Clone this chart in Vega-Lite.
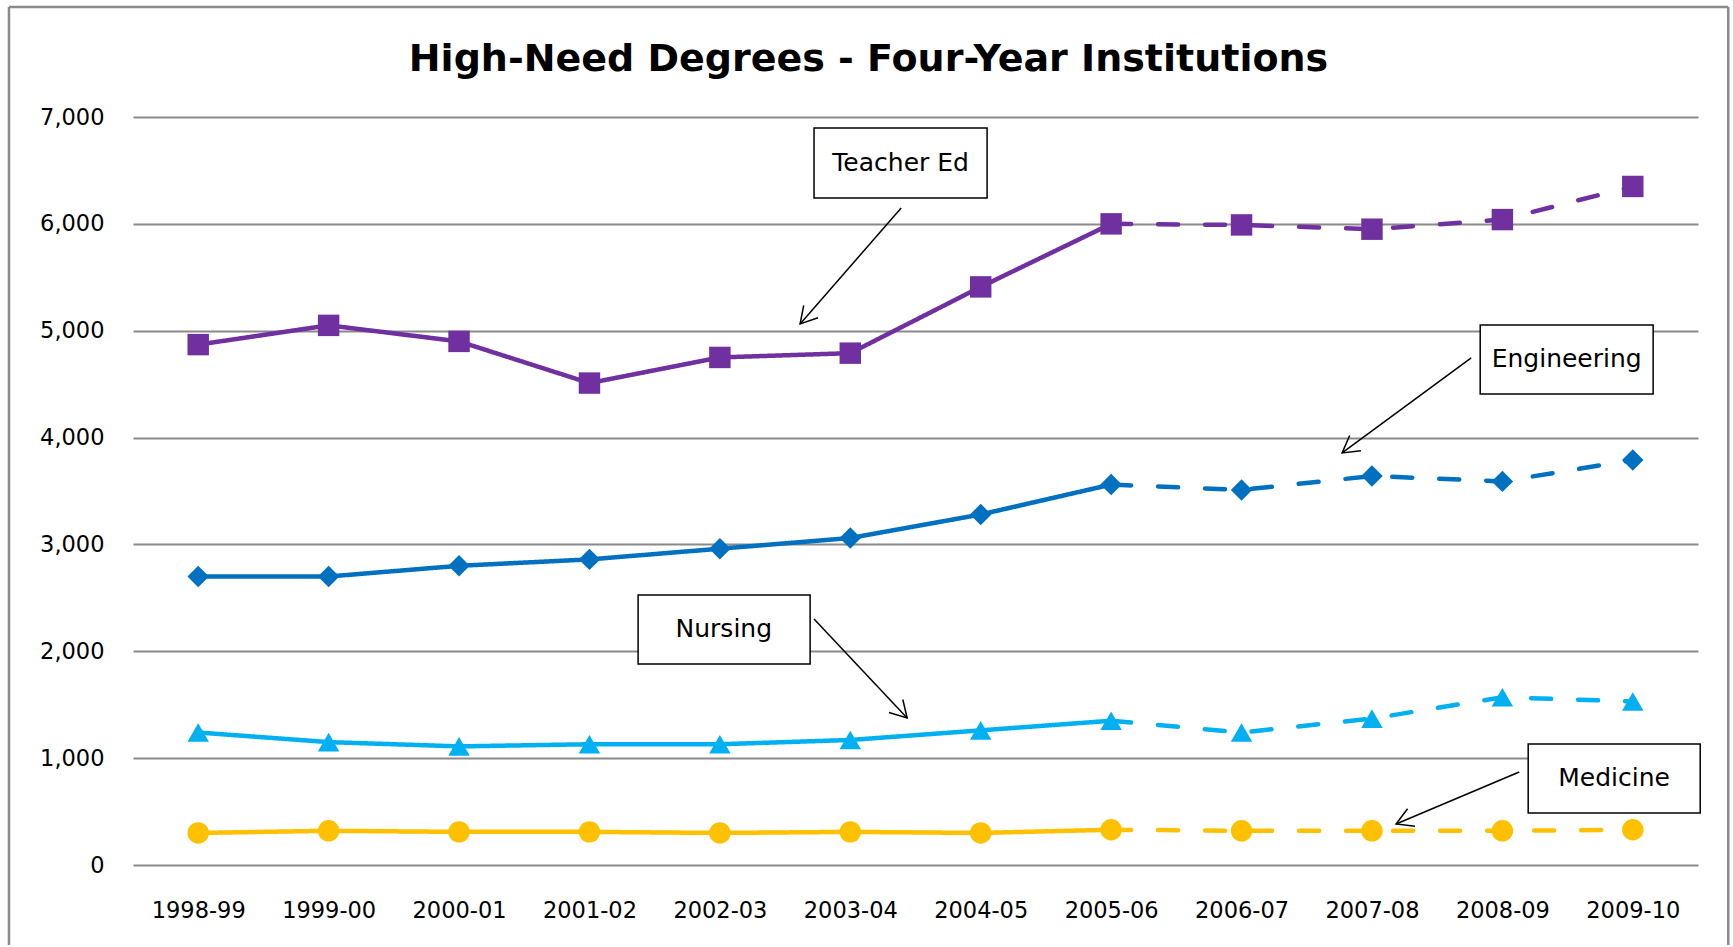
{
  "$schema": "https://vega.github.io/schema/vega-lite/v6.json",
  "width": 1565,
  "height": 748,
  "padding": {"left": 7, "top": 5, "right": 0, "bottom": 0},
  "background": "white",
  "title": {
    "text": "High-Need Degrees - Four-Year Institutions",
    "font": "DejaVu Sans",
    "fontSize": 38,
    "fontWeight": "bold",
    "color": "#000000",
    "anchor": "middle",
    "frame": "group",
    "baseline": "alphabetic",
    "offset": -103,
    "dx": -47
  },
  "datasets": {
    "series": [
      {"year": "1998-99", "series": "Teacher Ed", "value": 4870, "segment": "actual"},
      {"year": "1999-00", "series": "Teacher Ed", "value": 5050, "segment": "actual"},
      {"year": "2000-01", "series": "Teacher Ed", "value": 4900, "segment": "actual"},
      {"year": "2001-02", "series": "Teacher Ed", "value": 4510, "segment": "actual"},
      {"year": "2002-03", "series": "Teacher Ed", "value": 4750, "segment": "actual"},
      {"year": "2003-04", "series": "Teacher Ed", "value": 4790, "segment": "actual"},
      {"year": "2004-05", "series": "Teacher Ed", "value": 5410, "segment": "actual"},
      {"year": "2005-06", "series": "Teacher Ed", "value": 6000, "segment": "actual"},
      {"year": "2005-06", "series": "Teacher Ed", "value": 6000, "segment": "projected"},
      {"year": "2006-07", "series": "Teacher Ed", "value": 5990, "segment": "projected"},
      {"year": "2007-08", "series": "Teacher Ed", "value": 5950, "segment": "projected"},
      {"year": "2008-09", "series": "Teacher Ed", "value": 6040, "segment": "projected"},
      {"year": "2009-10", "series": "Teacher Ed", "value": 6350, "segment": "projected"},
      {"year": "1998-99", "series": "Engineering", "value": 2700, "segment": "actual"},
      {"year": "1999-00", "series": "Engineering", "value": 2700, "segment": "actual"},
      {"year": "2000-01", "series": "Engineering", "value": 2800, "segment": "actual"},
      {"year": "2001-02", "series": "Engineering", "value": 2860, "segment": "actual"},
      {"year": "2002-03", "series": "Engineering", "value": 2960, "segment": "actual"},
      {"year": "2003-04", "series": "Engineering", "value": 3060, "segment": "actual"},
      {"year": "2004-05", "series": "Engineering", "value": 3280, "segment": "actual"},
      {"year": "2005-06", "series": "Engineering", "value": 3560, "segment": "actual"},
      {"year": "2005-06", "series": "Engineering", "value": 3560, "segment": "projected"},
      {"year": "2006-07", "series": "Engineering", "value": 3510, "segment": "projected"},
      {"year": "2007-08", "series": "Engineering", "value": 3640, "segment": "projected"},
      {"year": "2008-09", "series": "Engineering", "value": 3590, "segment": "projected"},
      {"year": "2009-10", "series": "Engineering", "value": 3790, "segment": "projected"},
      {"year": "1998-99", "series": "Nursing", "value": 1240, "segment": "actual"},
      {"year": "1999-00", "series": "Nursing", "value": 1150, "segment": "actual"},
      {"year": "2000-01", "series": "Nursing", "value": 1110, "segment": "actual"},
      {"year": "2001-02", "series": "Nursing", "value": 1130, "segment": "actual"},
      {"year": "2002-03", "series": "Nursing", "value": 1130, "segment": "actual"},
      {"year": "2003-04", "series": "Nursing", "value": 1170, "segment": "actual"},
      {"year": "2004-05", "series": "Nursing", "value": 1260, "segment": "actual"},
      {"year": "2005-06", "series": "Nursing", "value": 1350, "segment": "actual"},
      {"year": "2005-06", "series": "Nursing", "value": 1350, "segment": "projected"},
      {"year": "2006-07", "series": "Nursing", "value": 1240, "segment": "projected"},
      {"year": "2007-08", "series": "Nursing", "value": 1370, "segment": "projected"},
      {"year": "2008-09", "series": "Nursing", "value": 1570, "segment": "projected"},
      {"year": "2009-10", "series": "Nursing", "value": 1530, "segment": "projected"},
      {"year": "1998-99", "series": "Medicine", "value": 300, "segment": "actual"},
      {"year": "1999-00", "series": "Medicine", "value": 320, "segment": "actual"},
      {"year": "2000-01", "series": "Medicine", "value": 310, "segment": "actual"},
      {"year": "2001-02", "series": "Medicine", "value": 310, "segment": "actual"},
      {"year": "2002-03", "series": "Medicine", "value": 300, "segment": "actual"},
      {"year": "2003-04", "series": "Medicine", "value": 310, "segment": "actual"},
      {"year": "2004-05", "series": "Medicine", "value": 300, "segment": "actual"},
      {"year": "2005-06", "series": "Medicine", "value": 330, "segment": "actual"},
      {"year": "2005-06", "series": "Medicine", "value": 330, "segment": "projected"},
      {"year": "2006-07", "series": "Medicine", "value": 320, "segment": "projected"},
      {"year": "2007-08", "series": "Medicine", "value": 320, "segment": "projected"},
      {"year": "2008-09", "series": "Medicine", "value": 320, "segment": "projected"},
      {"year": "2009-10", "series": "Medicine", "value": 330, "segment": "projected"}
    ],
    "notes": [
      {"label": "Teacher Ed", "x1": 4.722, "x2": 6.049, "y1": 6897, "y2": 6242, "tx": 5.386, "ty": 6569, "ax1": 5.39, "ay1": 6148, "ax2": 4.615, "ay2": 5063, "angle": 131},
      {"label": "Engineering", "x1": 9.83, "x2": 11.156, "y1": 5053, "y2": 4408, "tx": 10.493, "ty": 4731, "ax1": 9.761, "ay1": 4745, "ax2": 8.771, "ay2": 3856, "angle": 143.6},
      {"label": "Nursing", "x1": 3.373, "x2": 4.692, "y1": 2527, "y2": 1881, "tx": 4.03, "ty": 2204, "ax1": 4.722, "ay1": 2302, "ax2": 5.436, "ay2": 1376, "angle": 46.8},
      {"label": "Medicine", "x1": 10.198, "x2": 11.517, "y1": 1132, "y2": 487, "tx": 10.857, "ty": 810, "ax1": 10.129, "ay1": 870, "ax2": 9.185, "ay2": 384, "angle": 157.1}
    ],
    "frame": [
      {"side": "left", "x1": -1.451, "x2": -1.451, "y1": 8029, "y2": -749},
      {"side": "top", "x1": -1.451, "x2": 11.732, "y1": 8029, "y2": 8029},
      {"side": "right", "x1": 11.732, "x2": 11.732, "y1": 8029, "y2": -749}
    ]
  },
  "layer": [
    {
      "layer": [
        {
          "data": {"name": "frame"},
          "mark": {"type": "rule", "color": "#8a8a8a", "strokeWidth": 2.5},
          "encoding": {
            "x": {"field": "x1", "type": "quantitative", "scale": {"domain": [-0.5, 11.5], "nice": false, "zero": false}, "axis": null},
            "x2": {"field": "x2"},
            "y": {"field": "y1", "type": "quantitative", "scale": {"domain": [0, 7000], "nice": false, "zero": false}, "title": null},
            "y2": {"field": "y2"}
          }
        },
        {
          "data": {"name": "notes"},
          "mark": {"type": "rect", "fill": "white", "stroke": "black", "strokeWidth": 1.5},
          "encoding": {
            "x": {"field": "x1", "type": "quantitative", "scale": {"domain": [-0.5, 11.5], "nice": false, "zero": false}, "axis": null},
            "x2": {"field": "x2"},
            "y": {"field": "y1", "type": "quantitative", "scale": {"domain": [0, 7000], "nice": false, "zero": false}, "title": null},
            "y2": {"field": "y2"}
          }
        },
        {
          "data": {"name": "notes"},
          "mark": {"type": "text", "font": "DejaVu Sans", "fontSize": 25, "color": "black", "align": "center", "baseline": "middle"},
          "encoding": {
            "x": {"field": "tx", "type": "quantitative", "scale": {"domain": [-0.5, 11.5], "nice": false, "zero": false}, "axis": null},
            "y": {"field": "ty", "type": "quantitative", "scale": {"domain": [0, 7000], "nice": false, "zero": false}, "title": null},
            "text": {"field": "label"}
          }
        },
        {
          "data": {"name": "notes"},
          "mark": {"type": "rule", "color": "black", "strokeWidth": 1.5},
          "encoding": {
            "x": {"field": "ax1", "type": "quantitative", "scale": {"domain": [-0.5, 11.5], "nice": false, "zero": false}, "axis": null},
            "x2": {"field": "ax2"},
            "y": {"field": "ay1", "type": "quantitative", "scale": {"domain": [0, 7000], "nice": false, "zero": false}, "title": null},
            "y2": {"field": "ay2"}
          }
        },
        {
          "data": {"name": "notes"},
          "mark": {"type": "point", "shape": "M -0.866 -0.5 L 0 0 L -0.866 0.5", "filled": false, "color": "black", "strokeWidth": 1.5, "size": 1444, "opacity": 1},
          "encoding": {
            "x": {"field": "ax2", "type": "quantitative", "scale": {"domain": [-0.5, 11.5], "nice": false, "zero": false}, "axis": null},
            "y": {"field": "ay2", "type": "quantitative", "scale": {"domain": [0, 7000], "nice": false, "zero": false}, "title": null},
            "angle": {"field": "angle", "type": "quantitative", "scale": null}
          }
        }
      ]
    },
    {
      "data": {"name": "series"},
      "layer": [
        {
          "mark": {"type": "line", "strokeWidth": 4.5, "strokeCap": "round", "strokeJoin": "round"},
          "encoding": {
            "x": {"field": "year", "type": "ordinal", "scale": {"type": "point", "padding": 0.5}, "title": null},
            "y": {"field": "value", "type": "quantitative", "scale": {"domain": [0, 7000], "nice": false, "zero": false}, "title": null},
            "color": {"field": "series", "type": "nominal", "scale": {"domain": ["Teacher Ed", "Engineering", "Nursing", "Medicine"], "range": ["#7030A0", "#0070C0", "#00B0F0", "#FFC000"]}, "legend": null},
            "strokeDash": {"field": "segment", "type": "nominal", "scale": {"domain": ["actual", "projected"], "range": [[1, 0], [20, 27]]}, "legend": null},
            "detail": {"field": "segment"}
          }
        },
        {
          "transform": [{"filter": "datum.segment == 'actual' || datum.year != '2005-06'"}],
          "mark": {"type": "point", "filled": true, "opacity": 1, "size": 460},
          "encoding": {
            "x": {"field": "year", "type": "ordinal", "scale": {"type": "point", "padding": 0.5}, "title": null},
            "y": {"field": "value", "type": "quantitative", "scale": {"domain": [0, 7000], "nice": false, "zero": false}, "title": null},
            "color": {"field": "series", "type": "nominal", "scale": {"domain": ["Teacher Ed", "Engineering", "Nursing", "Medicine"], "range": ["#7030A0", "#0070C0", "#00B0F0", "#FFC000"]}, "legend": null},
            "shape": {"field": "series", "type": "nominal", "scale": {"domain": ["Teacher Ed", "Engineering", "Nursing", "Medicine"], "range": ["square", "diamond", "triangle-up", "circle"]}, "legend": null}
          }
        }
      ]
    }
  ],
  "resolve": {"scale": {"x": "independent"}, "axis": {"x": "independent"}},
  "config": {
    "view": {"stroke": null},
    "axis": {
      "labelFont": "DejaVu Sans",
      "labelFontSize": 22.5,
      "labelColor": "#000000",
      "ticks": false,
      "domain": false,
      "gridColor": "#8a8a8a",
      "gridWidth": 1.8
    },
    "axisY": {"grid": true, "tickCount": 7, "labelPadding": 29},
    "axisX": {"grid": false, "labelPadding": 34, "labelAngle": 0}
  }
}
